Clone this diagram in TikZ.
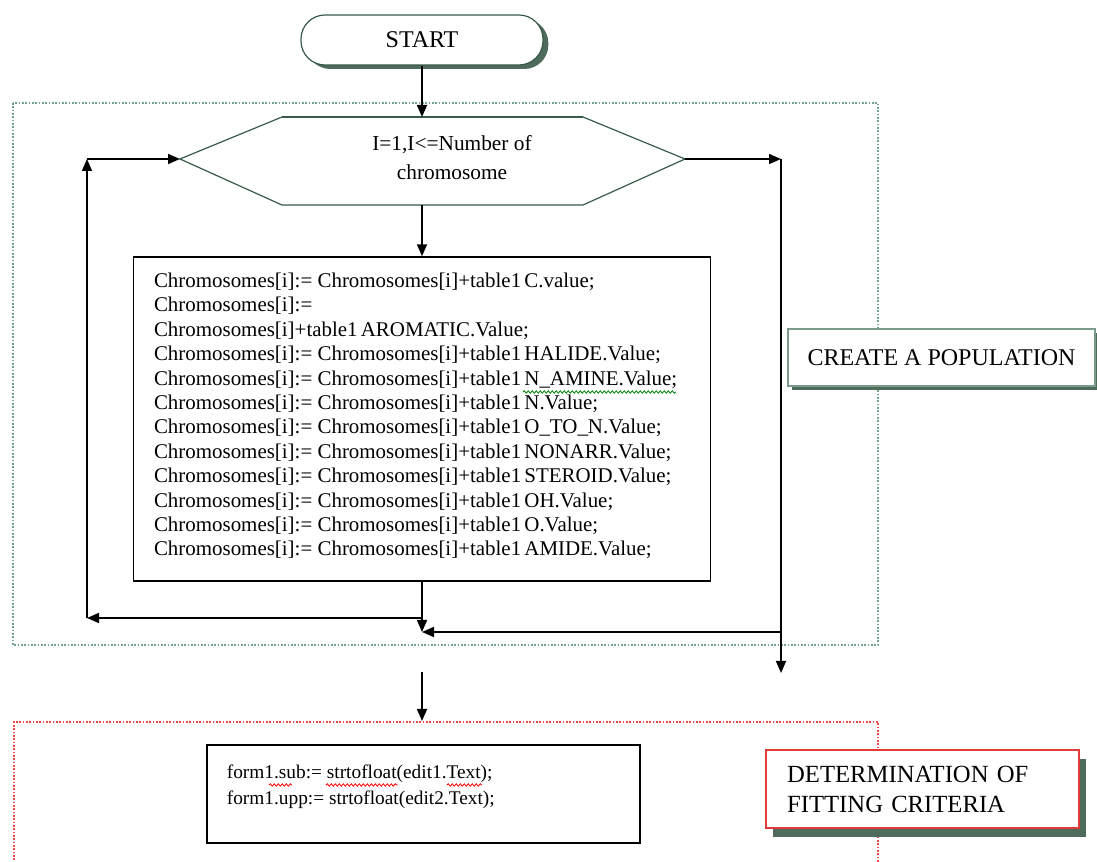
\documentclass[tikz,border=0pt]{standalone}
\usepackage{fontspec}
\setmainfont{Liberation Serif}
\usetikzlibrary{arrows.meta,shadows,decorations.pathmorphing}
\definecolor{shadowc}{HTML}{4F6B5C}
\definecolor{framegreen}{HTML}{6FA58C}
\definecolor{edgegreen}{HTML}{3A5A48}
\definecolor{softedge}{HTML}{7A9A8A}
\definecolor{framered}{HTML}{F04848}
\definecolor{boxred}{HTML}{E03A3A}
\tikzset{
  arr/.style={-{Triangle[length=9pt,width=7.5pt]}, line width=1.3pt, black},
  greenframe/.style={framegreen, line width=0.9pt, dash pattern=on 1.2pt off 1.3pt},
  redframe/.style={framered, line width=0.9pt, dash pattern=on 1.2pt off 1.3pt},
  startbox/.style={draw=edgegreen, line width=0.9pt, fill=white, rounded corners=18pt,
    minimum width=181.5pt, minimum height=37.5pt, font=\fontsize{18}{20}\selectfont,
    general shadow={fill=shadowc, shadow xshift=4pt, shadow yshift=-3pt}},
  labelbox/.style={draw=softedge, line width=1.1pt, fill=white,
    general shadow={fill=shadowc, shadow xshift=3pt, shadow yshift=-3pt}},
  codebox/.style={draw=black, line width=1.1pt, fill=white},
  squig/.style={decorate, decoration={snake, amplitude=0.9pt, segment length=3pt}, line width=0.6pt},
}
\newcommand{\tb}{table1\hspace{0.15em}}
\begin{document}
\begin{tikzpicture}[x=0.75pt,y=-0.75pt]
\useasboundingbox[fill=white] (0,0) rectangle (1097,862);

% frames
\draw[greenframe] (13,103) rectangle (878,645);
\draw[redframe] (14,870) -- (14,722) -- (878,722) -- (878,870);

% start
\node[startbox] (start) at (422,40) {START};

% hexagon
\coordinate (hexL) at (180,159);
\coordinate (hexR) at (685,159);
\coordinate (hexT) at (422,117);
\coordinate (hexB) at (422,205);
\draw[edgegreen, line width=0.9pt, fill=white] (hexL) -- (282,117) -- (583,117) -- (hexR) -- (583,205) -- (282,205) -- cycle;
\draw[edgegreen, line width=2pt] (282,117) -- (583,117);
\node[align=center, font=\fontsize{16}{21.75}\selectfont] (hextext) at (452,158) {I=1,I<=Number of\\chromosome};

% main code box
\node[codebox, minimum width=432.75pt, minimum height=243pt, inner sep=0pt,
  font=\fontsize{15.7}{18.3}\selectfont] (calc) at (422,419) {%
\parbox[c][243pt][t]{402pt}{\vspace{12pt}%
Chromosomes[i]:= Chromosomes[i]+\tb C.value;\\
Chromosomes[i]:=\\
Chromosomes[i]+\tb AROMATIC.Value;\\
Chromosomes[i]:= Chromosomes[i]+\tb HALIDE.Value;\\
Chromosomes[i]:= Chromosomes[i]+\tb N\_AMINE.Value;\\
Chromosomes[i]:= Chromosomes[i]+\tb N.Value;\\
Chromosomes[i]:= Chromosomes[i]+\tb O\_TO\_N.Value;\\
Chromosomes[i]:= Chromosomes[i]+\tb NONARR.Value;\\
Chromosomes[i]:= Chromosomes[i]+\tb STEROID.Value;\\
Chromosomes[i]:= Chromosomes[i]+\tb OH.Value;\\
Chromosomes[i]:= Chromosomes[i]+\tb O.Value;\\
Chromosomes[i]:= Chromosomes[i]+\tb AMIDE.Value;}};
\draw[squig, green!50!black] (523,392) -- (676,392);

% create population label
\node[labelbox, minimum width=230pt, minimum height=42.75pt, font=\fontsize{18}{20}\selectfont] (create) at (941.5,357.5) {CREATE A POPULATION};

% connectors
\coordinate (rTop) at (781,159);
\coordinate (rMid) at (781,632);
\coordinate (rBot) at (781,673);
\coordinate (merge) at (422,632);
\coordinate (lStart) at (422,618);
\coordinate (lBot) at (87,618);
\coordinate (lTop) at (87,159);
\coordinate (outTop) at (422,672);
\coordinate (redTop) at (422,721);

\draw[arr] (start.south) -- (hexT);
\draw[arr] (hexB) -- (calc.north);
\draw[arr] (hexR) -- (rTop);
\draw[arr] (rTop) -- (rBot);
\draw[arr] (rMid) -- (merge);
\draw[arr] (calc.south) -- (merge);
\draw[arr] (lStart) -- (lBot);
\draw[arr] (lBot) -- (lTop);
\draw[arr] (lTop) -- (hexL);
\draw[arr] (outTop) -- (redTop);

% fitting criteria
\node[codebox, minimum width=324.75pt, minimum height=73.5pt, inner sep=0pt, font=\fontsize{14.5}{19.5}\selectfont] (form) at (423.5,794)
  {\parbox[c][73.5pt][t]{295pt}{\vspace{15pt}form1.sub:= strtofloat(edit1.Text);\\form1.upp:= strtofloat(edit2.Text);}};
\draw[squig, red] (269,785) -- (292,785);
\draw[squig, red] (326,785) -- (398,785);
\draw[squig, red] (447,785) -- (482,785);

\node[draw=boxred, line width=1.1pt, fill=white, minimum width=234.75pt, minimum height=58.5pt,
  align=left, text width=203pt, inner xsep=15.75pt, font=\fontsize{18.5}{22.5}\selectfont,
  general shadow={fill=shadowc, shadow xshift=5pt, shadow yshift=-7pt}] (fit) at (922.5,789)
  {DETERMINATION OF\\FITTING CRITERIA};
\end{tikzpicture}
\end{document}
